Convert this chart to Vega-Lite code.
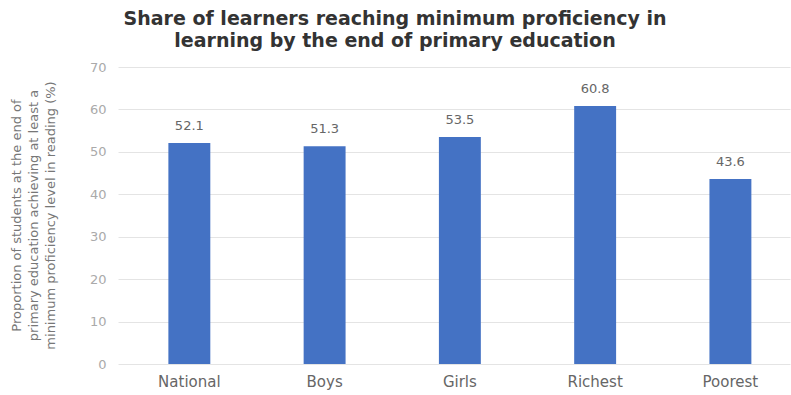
{
  "$schema": "https://vega.github.io/schema/vega-lite/v6.json",
  "autosize": {"type": "none"},
  "width": 672,
  "height": 297,
  "padding": {"left": 118, "top": 67, "right": 1, "bottom": 31},
  "background": "white",
  "config": {
    "font": "DejaVu Sans",
    "view": {"stroke": null}
  },
  "title": {
    "text": ["Share of learners reaching minimum proficiency in", "learning by the end of primary education"],
    "fontSize": 19,
    "fontWeight": "bold",
    "color": "#333333",
    "lineHeight": 22,
    "anchor": "middle",
    "dx": -59,
    "offset": 10
  },
  "data": {
    "values": [
      {"group": "National", "value": 52.1},
      {"group": "Boys", "value": 51.3},
      {"group": "Girls", "value": 53.5},
      {"group": "Richest", "value": 60.8},
      {"group": "Poorest", "value": 43.6}
    ]
  },
  "encoding": {
    "x": {
      "field": "group",
      "type": "nominal",
      "sort": null,
      "scale": {"paddingInner": 0.69, "paddingOuter": 0.329, "align": 0.566},
      "axis": {
        "title": null,
        "labelAngle": 0,
        "labelFontSize": 15,
        "labelColor": "#666666",
        "labelPadding": 10,
        "ticks": false,
        "domain": false
      }
    },
    "y": {
      "field": "value",
      "type": "quantitative",
      "scale": {"domain": [0, 70]},
      "axis": {
        "values": [0, 10, 20, 30, 40, 50, 60, 70],
        "title": ["Proportion of students at the end of", "primary education achieving at least a", "minimum proficiency level in reading (%)"],
        "titleFontSize": 13,
        "titleFontWeight": "normal",
        "titleColor": "#777777",
        "titleLineHeight": 17,
        "titleAngle": -90,
        "titleAlign": "center",
        "titleBaseline": "top",
        "titleX": -108,
        "titleY": 148,
        "labelFontSize": 13,
        "labelColor": "#aaaaaa",
        "labelPadding": 12,
        "ticks": false,
        "domain": false,
        "gridColor": "#e4e4e4"
      }
    }
  },
  "layer": [
    {"mark": {"type": "bar", "color": "#4472C4"}},
    {
      "mark": {"type": "text", "dy": -10, "fontSize": 13, "color": "#666666", "baseline": "bottom"},
      "encoding": {"text": {"field": "value", "type": "quantitative", "format": ".1f"}}
    }
  ]
}
